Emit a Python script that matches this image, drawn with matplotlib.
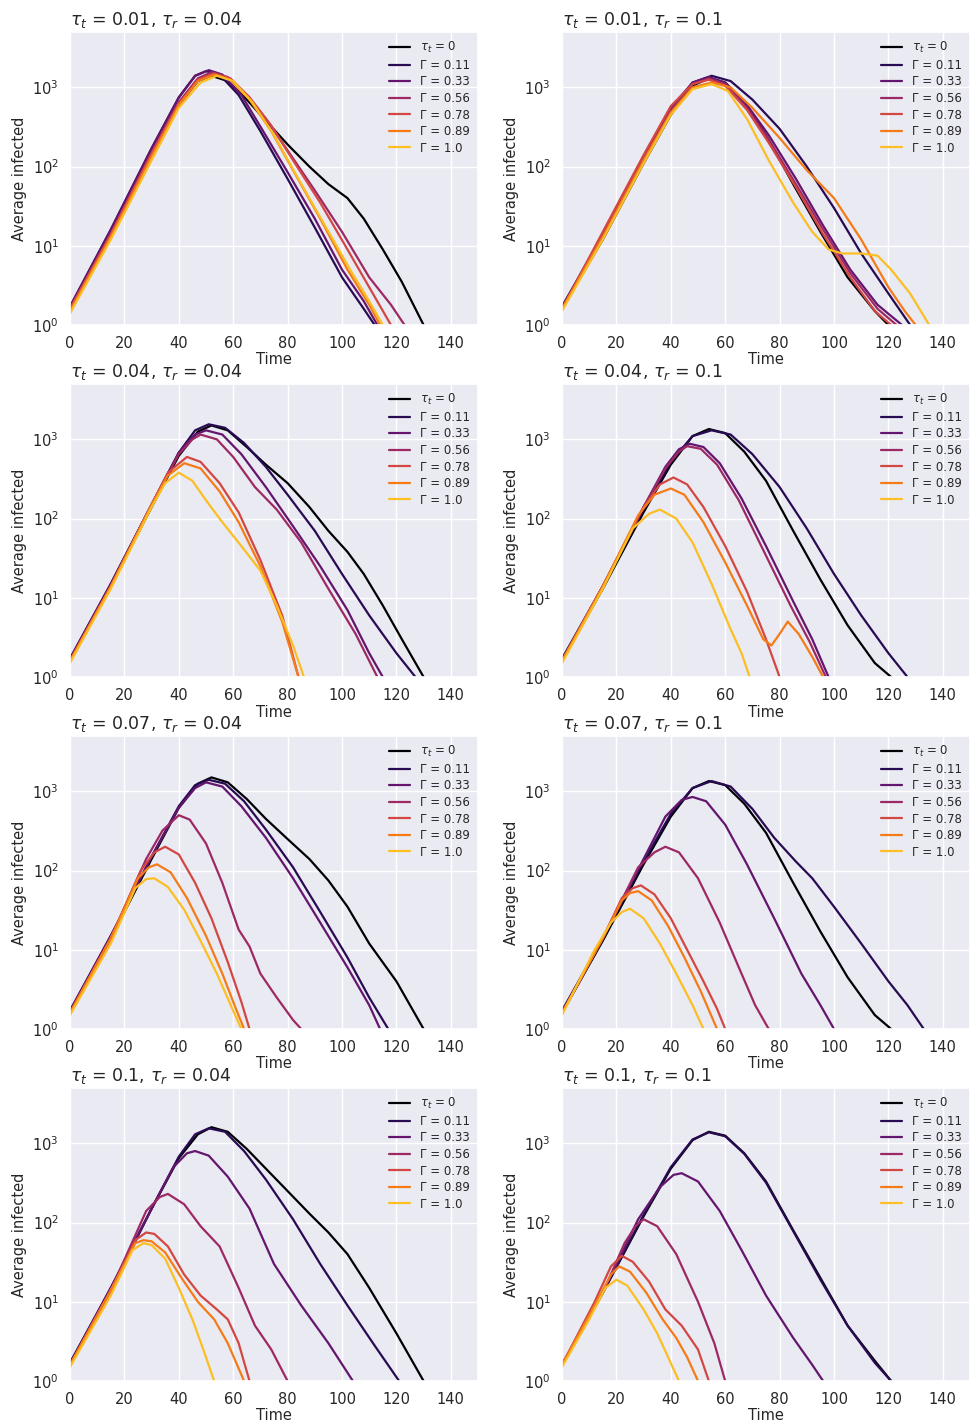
import matplotlib
matplotlib.use("Agg")
import matplotlib.pyplot as plt
import seaborn as sns
import numpy as np

sns.set_theme(style="darkgrid")
plt.rcParams['font.family'] = ['DejaVu Sans']

titles = [r"$\tau_t$ = 0.01, $\tau_r$ = 0.04", r"$\tau_t$ = 0.01, $\tau_r$ = 0.1",
          r"$\tau_t$ = 0.04, $\tau_r$ = 0.04", r"$\tau_t$ = 0.04, $\tau_r$ = 0.1",
          r"$\tau_t$ = 0.07, $\tau_r$ = 0.04", r"$\tau_t$ = 0.07, $\tau_r$ = 0.1",
          r"$\tau_t$ = 0.1, $\tau_r$ = 0.04", r"$\tau_t$ = 0.1, $\tau_r$ = 0.1"]
labels = [r"$\tau_t$ = 0", "Γ = 0.11", "Γ = 0.33", "Γ = 0.56", "Γ = 0.78", "Γ = 0.89", "Γ = 1.0"]

P1 = [
 [(0,1.6),(15,14),(30,140),(40,600),(47,1200),(52,1400),(58,1200),(65,700),(72,380),(80,190),(88,100),(95,60),(102,40),(108,22),(115,9),(122,3.5),(130,1)],
 [(0,1.7),(15,16),(30,170),(40,750),(46,1400),(50,1600),(55,1450),(62,800),(70,280),(80,70),(90,17),(100,4),(108,1.6),(112,1)],
 [(0,1.7),(15,16),(30,170),(40,740),(46,1400),(51,1650),(56,1450),(63,800),(70,320),(80,85),(90,22),(100,5),(108,2),(113,1)],
 [(0,1.6),(15,14),(30,150),(40,650),(47,1300),(52,1550),(58,1350),(65,800),(72,400),(80,160),(90,50),(100,15),(110,4),(118,1.8),(123,1)],
 [(0,1.6),(15,14),(30,145),(40,620),(47,1250),(53,1500),(59,1300),(66,750),(74,330),(82,120),(92,35),(102,9),(110,3),(118,1)],
 [(0,1.5),(15,13),(30,135),(40,600),(47,1200),(53,1450),(59,1250),(66,700),(74,280),(82,90),(92,22),(102,5),(110,1.8),(114,1)],
 [(0,1.4),(15,12),(30,120),(40,550),(48,1150),(54,1400),(60,1200),(67,650),(75,250),(83,80),(93,20),(103,5),(110,2),(115,1)],
]
P2 = [
 [(0,1.6),(15,12),(30,110),(40,450),(48,1050),(54,1300),(60,1150),(67,650),(75,250),(85,60),(95,15),(105,4),(115,1.5),(120,1)],
 [(0,1.7),(15,13),(30,120),(40,500),(48,1150),(55,1400),(62,1200),(70,700),(80,300),(90,100),(100,30),(110,8),(120,2.5),(128,1)],
 [(0,1.7),(15,14),(30,130),(40,550),(48,1150),(54,1350),(60,1150),(68,600),(76,250),(86,70),(96,18),(106,5),(116,1.8),(125,1)],
 [(0,1.6),(15,13),(30,125),(40,520),(48,1100),(54,1300),(60,1100),(68,550),(76,220),(86,60),(96,16),(106,4.5),(116,1.6),(123,1)],
 [(0,1.6),(15,15),(30,140),(40,580),(48,1100),(54,1250),(60,1050),(68,520),(76,200),(86,55),(96,14),(106,4),(115,1.5),(121,1)],
 [(0,1.6),(15,13),(30,120),(40,480),(48,1000),(55,1150),(62,1000),(70,550),(80,230),(90,90),(100,40),(110,12),(120,3),(126,1.5),(130,1)],
 [(0,1.5),(15,12),(30,110),(40,450),(48,950),(55,1100),(61,900),(68,400),(76,120),(85,35),(92,15),(98,9),(103,8),(110,8),(116,7.5),(121,5),(128,2.5),(135,1)],
]
P3 = [
 [(0,1.6),(15,14),(30,140),(40,620),(47,1250),(52,1500),(58,1300),(65,800),(72,480),(80,280),(88,140),(95,70),(102,38),(108,20),(115,8),(122,3),(130,1)],
 [(0,1.7),(15,15),(30,150),(40,680),(46,1300),(51,1550),(57,1400),(64,900),(72,450),(80,200),(90,70),(100,20),(110,6),(120,2),(127,1)],
 [(0,1.7),(15,15),(30,150),(40,680),(46,1150),(50,1300),(56,1150),(63,650),(72,250),(82,80),(92,25),(102,7),(110,2),(115,1)],
 [(0,1.6),(15,14),(30,150),(40,650),(45,1000),(48,1150),(54,1000),(60,600),(68,250),(76,130),(85,50),(95,13),(105,3.5),(113,1)],
 [(0,1.6),(15,14),(30,150),(36,380),(43,600),(48,520),(55,280),(62,120),(70,30),(78,6),(84,1)],
 [(0,1.6),(15,14),(30,150),(36,350),(42,500),(48,430),(55,220),(62,90),(70,25),(78,5),(84,1)],
 [(0,1.5),(15,13),(30,140),(35,280),(40,380),(45,300),(50,170),(56,90),(63,45),(70,22),(76,8),(82,2.5),(86,1)],
]
P4 = [
 [(0,1.6),(15,13),(30,120),(40,480),(48,1100),(54,1350),(60,1200),(67,700),(75,300),(85,70),(95,17),(105,4.5),(115,1.5),(121,1)],
 [(0,1.7),(15,14),(30,130),(40,520),(48,1100),(55,1300),(62,1150),(70,650),(80,250),(90,75),(100,20),(110,6),(120,2),(127,1)],
 [(0,1.6),(15,14),(30,140),(38,450),(43,750),(47,880),(52,800),(58,500),(66,180),(75,45),(85,9),(92,3),(98,1)],
 [(0,1.6),(15,14),(30,140),(38,430),(43,700),(46,820),(51,760),(57,480),(65,170),(74,40),(84,8),(91,2.8),(97,1)],
 [(0,1.6),(15,14),(30,140),(36,270),(41,330),(46,270),(52,140),(60,45),(68,12),(75,3),(80,1)],
 [(0,1.6),(15,14),(28,110),(34,200),(40,240),(45,200),(52,90),(60,28),(68,8),(74,3),(77,2.5),(80,3.5),(83,5),(87,3.5),(92,1.8),(96,1)],
 [(0,1.5),(15,13),(26,75),(32,115),(36,130),(42,100),(48,50),(55,15),(62,4),(66,2),(69,1)],
]
P5 = [
 [(0,1.6),(15,14),(30,140),(40,620),(47,1250),(52,1500),(58,1300),(65,800),(72,450),(80,250),(88,140),(95,75),(102,35),(110,12),(120,4),(130,1)],
 [(0,1.7),(15,15),(30,150),(40,650),(46,1200),(51,1400),(57,1250),(64,750),(72,330),(82,110),(92,30),(102,8),(110,2.5),(117,1)],
 [(0,1.7),(15,15),(30,150),(40,620),(46,1100),(50,1300),(56,1150),(63,650),(72,260),(82,80),(92,22),(102,6),(110,2),(114,1)],
 [(0,1.6),(15,14),(28,140),(34,320),(40,500),(44,440),(50,220),(56,70),(62,18),(66,11),(70,5),(76,2.5),(82,1.3),(85,1)],
 [(0,1.6),(15,14),(26,100),(31,170),(35,200),(40,160),(46,70),(52,25),(58,7),(63,2.2),(66,1)],
 [(0,1.6),(15,14),(25,80),(29,110),(32,120),(37,95),(43,45),(50,15),(56,5),(61,1.8),(64,1)],
 [(0,1.5),(15,12),(24,60),(28,78),(31,80),(36,62),(42,32),(48,13),(54,5),(60,1.7),(63,1)],
]
P6 = [
 [(0,1.6),(15,13),(30,120),(40,480),(48,1100),(54,1350),(60,1200),(67,700),(75,300),(85,70),(95,17),(105,4.5),(115,1.5),(121,1)],
 [(0,1.7),(15,14),(30,130),(40,520),(48,1100),(55,1350),(62,1150),(70,600),(78,260),(86,130),(92,80),(100,35),(110,12),(120,4),(127,2),(133,1)],
 [(0,1.6),(15,14),(30,140),(38,480),(44,780),(48,850),(53,750),(60,380),(68,120),(78,25),(88,5),(95,2),(100,1)],
 [(0,1.6),(15,14),(28,110),(34,170),(38,200),(43,170),(50,80),(58,22),(65,6),(71,2),(76,1)],
 [(0,1.6),(15,14),(22,45),(26,60),(29,65),(34,50),(40,25),(46,10),(52,4),(57,1.8),(60,1)],
 [(0,1.6),(15,14),(22,42),(25,52),(28,55),(33,42),(39,20),(45,8),(51,3),(57,1)],
 [(0,1.5),(12,10),(18,22),(22,30),(25,33),(30,25),(36,12),(42,5),(48,2),(52,1)],
]
P7 = [
 [(0,1.6),(15,14),(30,150),(40,650),(47,1300),(52,1600),(58,1400),(65,850),(72,480),(80,250),(88,130),(95,75),(102,40),(110,15),(120,4),(130,1)],
 [(0,1.7),(15,15),(30,150),(40,680),(46,1300),(51,1550),(57,1400),(64,800),(72,350),(82,110),(92,30),(102,9),(112,2.8),(121,1)],
 [(0,1.6),(15,15),(30,150),(38,500),(43,750),(46,800),(51,700),(58,380),(66,150),(75,30),(85,9),(95,3),(104,1)],
 [(0,1.6),(15,14),(28,140),(33,210),(36,230),(42,170),(48,90),(55,50),(62,15),(68,5),(74,2.5),(80,1)],
 [(0,1.6),(15,14),(24,60),(28,75),(31,72),(36,50),(42,22),(48,12),(54,8),(58,6),(62,3),(66,1)],
 [(0,1.6),(15,14),(24,55),(27,60),(30,58),(35,42),(41,20),(47,10),(53,6),(58,3),(64,1)],
 [(0,1.5),(15,12),(23,45),(27,55),(30,52),(35,35),(40,15),(45,6),(49,2.5),(53,1)],
]
P8 = [
 [(0,1.6),(15,13),(30,120),(40,480),(48,1100),(54,1400),(60,1250),(67,750),(75,330),(85,80),(95,20),(105,5),(115,1.8),(121,1)],
 [(0,1.6),(15,13),(30,125),(40,500),(48,1120),(54,1380),(60,1230),(67,740),(75,320),(85,78),(95,19),(105,5),(115,1.7),(121,1)],
 [(0,1.6),(15,13),(28,110),(36,280),(41,400),(44,420),(50,330),(58,140),(66,45),(75,12),(85,3.5),(92,1.6),(96,1)],
 [(0,1.6),(15,13),(23,55),(27,90),(30,110),(35,90),(42,40),(50,10),(56,3),(60,1)],
 [(0,1.6),(12,10),(18,28),(22,38),(26,32),(32,18),(38,8),(44,5),(50,2.5),(54,1)],
 [(0,1.6),(12,9),(18,22),(21,28),(25,24),(31,13),(37,6),(42,3.5),(46,2),(50,1)],
 [(0,1.5),(10,6),(16,15),(20,19),(24,16),(30,8),(35,4),(39,2),(43,1)],
]
panels = [P1, P2, P3, P4, P5, P6, P7, P8]
colors = [plt.cm.inferno(v) for v in np.linspace(0, 0.85, 7)]

fig = plt.figure(figsize=(9.72, 14.25), dpi=100)
W, H = 972, 1425
lefts = [70, 562]
tops = [32, 384, 736, 1088]
aw, ah = 408, 293
for i, P in enumerate(panels):
    r, c = divmod(i, 2)
    ax = fig.add_axes([lefts[c] / W, 1 - (tops[r] + ah) / H, aw / W, ah / H])
    for k, curve in enumerate(P):
        t = [p[0] for p in curve]
        v = [p[1] for p in curve]
        ax.plot(t, v, color=colors[k], lw=1.6, label=labels[k])
    ax.set_yscale("log")
    ax.set_ylim(1, 5000)
    ax.set_xlim(0, 150)
    ax.set_xticks(range(0, 141, 20))
    ax.minorticks_off()
    ax.tick_params(labelsize=10.5, pad=2)
    ax.set_xlabel("Time", fontsize=10.5, labelpad=1)
    ax.set_ylabel("Average infected", fontsize=10.5)
    ax.set_title(titles[i], loc="left", fontsize=12.5, pad=5)
    ax.legend(loc="upper right", fontsize=8.5, frameon=False, handlelength=1.8,
              labelspacing=0.3, borderaxespad=0.3)

fig.savefig("out.png", dpi=100)
